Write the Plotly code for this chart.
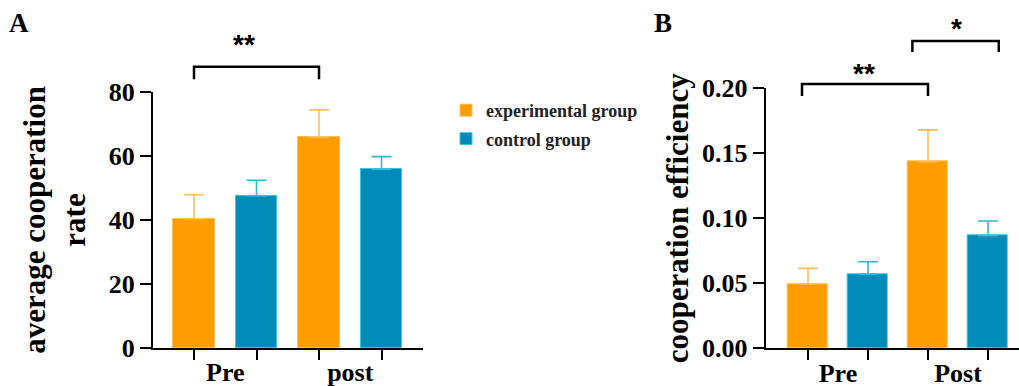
import plotly.graph_objects as go

# ---------------- data ----------------
groups_a = ["Pre", "post"]
groups_b = ["Pre", "Post"]
series = ["experimental group", "control group"]

rate_exp = [40.3, 65.8]
rate_exp_err = [7.6, 8.6]
rate_ctl = [47.5, 55.8]
rate_ctl_err = [4.9, 4.0]

eff_exp = [0.0495, 0.1435]
eff_exp_err = [0.0120, 0.0245]
eff_ctl = [0.0569, 0.0866]
eff_ctl_err = [0.0097, 0.0113]

ticks_a = [0, 20, 40, 60, 80]
ticks_b = [0, 0.05, 0.10, 0.15, 0.20]

# significance marks: (left bar index, right bar index, label)
sig_a = [(0, 2, "**")]
sig_b = [(-0.1, 2.0, "**"), (1.74, 3.18, "*")]

# ---------------- style ----------------
W, H = 1019, 386
ORANGE = "#FF9C00"
BLUE = "#008BB8"
ORANGE_EDGE = "#FFBE55"
BLUE_EDGE = "#3CC3E3"
ORANGE_ERR = "#FFBD5A"
BLUE_ERR = "#2FB8DA"
SERIF = "Liberation Serif"
SANS = "Liberation Sans"


def px(x):
    return x / W


def py(y):
    return 1 - y / H


def positions(n_groups, j):
    # bar slot index: each group holds two bars side by side
    return [i * 2 + j for i in range(n_groups)]


fig = go.Figure()

panels = [
    ("x", "y", groups_a, [(rate_exp, rate_exp_err), (rate_ctl, rate_ctl_err)], True),
    ("x2", "y2", groups_b, [(eff_exp, eff_exp_err), (eff_ctl, eff_ctl_err)], False),
]
fills = [ORANGE, BLUE]
edges = [ORANGE_EDGE, BLUE_EDGE]
errs = [ORANGE_ERR, BLUE_ERR]

for xa, ya, groups, data, show in panels:
    for j, (vals, err) in enumerate(data):
        fig.add_trace(go.Bar(
            x=positions(len(groups), j), y=vals,
            name=series[j], legendgroup=series[j], showlegend=show,
            width=0.67, xaxis=xa, yaxis=ya,
            marker=dict(color=fills[j], line=dict(color=edges[j], width=1)),
            error_y=dict(type="data", array=err, arrayminus=[0] * len(err),
                         symmetric=False, color=errs[j], thickness=1.6, width=10),
        ))

axis_common = dict(showline=True, linecolor="black", linewidth=2, automargin=False,
                   showgrid=False, zeroline=False, fixedrange=True)
tickfont = dict(family=SERIF, size=26, color="black", weight="bold")
titlefont = dict(family=SERIF, size=31, color="black", weight="bold")

fig.update_layout(
    width=W, height=H, margin=dict(l=0, r=0, t=0, b=0, autoexpand=False),
    paper_bgcolor="white", plot_bgcolor="white",
    barmode="overlay", bargap=0,
    xaxis=dict(**axis_common, domain=[px(153), px(423)], range=[-0.656, 3.664],
               anchor="y", tickmode="array",
               tickvals=[i * 2 + 0.5 for i in range(len(groups_a))], ticktext=groups_a,
               ticks="", tickfont=tickfont, ticklabelstandoff=0,
               minor=dict(tickmode="array", tickvals=[0, 1, 2, 3], ticks="outside",
                          ticklen=10, tickwidth=2, tickcolor="black")),
    yaxis=dict(**axis_common, domain=[py(348), py(92)], range=[0, 80], anchor="x",
               tickmode="array", tickvals=ticks_a, ticks="outside", ticklen=11,
               tickwidth=2, tickcolor="black", tickfont=tickfont,
               title=dict(text="average cooperation<br>rate", font=titlefont, standoff=14)),
    xaxis2=dict(**axis_common, domain=[px(765.7), 1.0], range=[-0.705, 3.517],
                anchor="y2", tickmode="array",
                tickvals=[i * 2 + 0.5 for i in range(len(groups_b))], ticktext=groups_b,
                ticks="", tickfont=tickfont, ticklabelstandoff=0,
                minor=dict(tickmode="array", tickvals=[0, 1, 2, 3], ticks="outside",
                           ticklen=10, tickwidth=2, tickcolor="black")),
    yaxis2=dict(**axis_common, domain=[py(348.3), py(88.3)], range=[0, 0.2], anchor="x2",
                tickmode="array", tickvals=ticks_b, tickformat=".2f", ticks="outside",
                ticklen=11, tickwidth=2, tickcolor="black", tickfont=tickfont,
                title=dict(text="cooperation efficiency", font=titlefont, standoff=4)),
    legend=dict(x=px(446), y=py(92), xanchor="left", yanchor="top",
                font=dict(family=SERIF, size=18, color="#222", weight="bold"),
                traceorder="grouped", tracegroupgap=2, itemwidth=30,
                bgcolor="rgba(0,0,0,0)"),
    showlegend=True,
)

# significance brackets (x in data units, y in page pixels)
brackets = [
    ("x", sig_a[0], 66.7, 79.3, 0.8, 45),
    ("x2", sig_b[0], 84, 96, 0.94, 73),
    ("x2", sig_b[1], 41, 52, 2.47, 28),
]
for xr, (x0, x1, lab), ytop, ybot, xlab, ylab in brackets:
    fig.add_shape(type="path", xref=xr, yref="paper",
                  path=f"M {x0},{py(ybot)} L {x0},{py(ytop)} L {x1},{py(ytop)} L {x1},{py(ybot)}",
                  line=dict(color="black", width=2.5))
    fig.add_annotation(x=xlab, y=py(ylab), xref=xr, yref="paper", text=lab,
                       showarrow=False, xanchor="center", yanchor="middle",
                       font=dict(family=SANS, size=28, color="black", weight="bold"))

# panel letters
for lab, cx in (("A", 19), ("B", 663)):
    fig.add_annotation(x=px(cx), y=py(23), xref="paper", yref="paper", text=lab,
                       showarrow=False, xanchor="center", yanchor="middle",
                       font=dict(family=SERIF, size=27, color="black", weight="bold"))

fig.write_html(
    "out.html",
    config={"displayModeBar": False},
    post_script="document.body.style.margin='0';document.body.style.padding='0';"
                "document.body.style.overflow='hidden';",
)
